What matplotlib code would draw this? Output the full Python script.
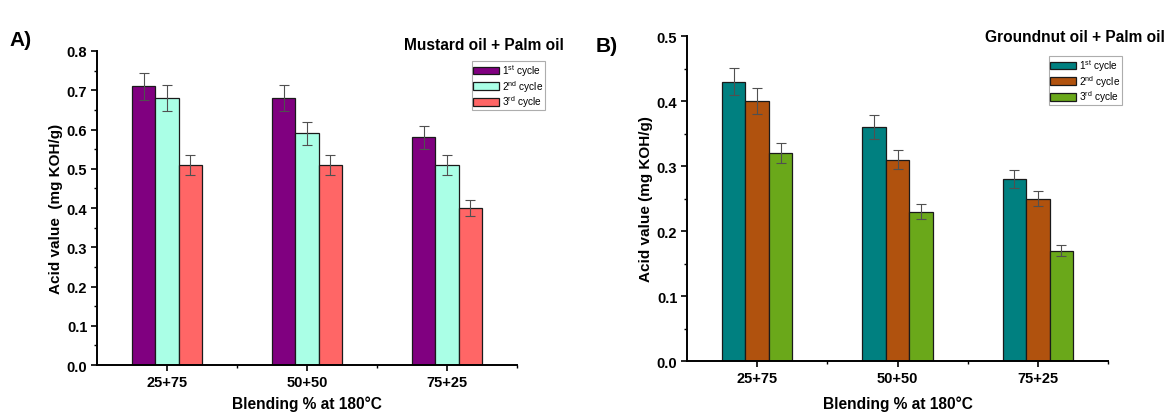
import numpy as np
import matplotlib
matplotlib.use("Agg")
import matplotlib.pyplot as plt
from matplotlib.ticker import MultipleLocator, FixedLocator, FormatStrFormatter

plt.rcParams['font.family'] = ['Liberation Sans', 'DejaVu Sans']
plt.rcParams['mathtext.fontset'] = 'custom'
plt.rcParams['mathtext.rm'] = 'Liberation Sans'
plt.rcParams['mathtext.it'] = 'Liberation Sans'

blends = ["25+75", "50+50", "75+25"]
cycles = ["1$^{st}$ cycle", "2$^{nd}$ cycle", "3$^{rd}$ cycle"]

# Mustard oil + Palm oil acid values (rows: cycles, cols: blends)
mustard_vals = [[0.71, 0.68, 0.58],
                [0.68, 0.59, 0.51],
                [0.51, 0.51, 0.40]]
mustard_err = [[0.035, 0.034, 0.029],
               [0.034, 0.030, 0.025],
               [0.025, 0.025, 0.020]]

# Groundnut oil + Palm oil acid values
groundnut_vals = [[0.43, 0.36, 0.28],
                  [0.40, 0.31, 0.25],
                  [0.32, 0.23, 0.17]]
groundnut_err = [[0.021, 0.018, 0.014],
                 [0.020, 0.015, 0.012],
                 [0.016, 0.011, 0.008]]

mustard_colors = ["#800080", "#aaffe6", "#ff6666"]
groundnut_colors = ["#008080", "#b0520e", "#6aa81a"]

W, H = 1172, 414
fig = plt.figure(figsize=(W / 100, H / 100), dpi=100)
axA = fig.add_axes([0.0828, 0.1159, 0.3583, 0.7585])
axB = fig.add_axes([0.5862, 0.1256, 0.3592, 0.7850])


def draw(ax, vals, errs, colors, ymax, title, ylabel, title_xy, legend_anchor,
         ylab_px, xlab_pad):
    x = np.arange(1, len(blends) + 1)
    w = 0.167
    handles = []
    for i, (v, e, c) in enumerate(zip(vals, errs, colors)):
        b = ax.bar(x + (i - 1) * w, v, width=w, color=c, edgecolor="#1a1a1a",
                   linewidth=0.9, zorder=2, label=cycles[i])
        ax.errorbar(x + (i - 1) * w, v, yerr=e, fmt="none", ecolor="#505050",
                    elinewidth=0.8, capsize=3.5, capthick=0.8, zorder=3)
        handles.append(b)
    ax.set_xlim(0.5, 3.5)
    ax.set_ylim(0, ymax)
    ax.set_xticks(x)
    ax.set_xticklabels(blends, fontsize=10.5, fontweight="bold")
    ax.xaxis.set_minor_locator(FixedLocator([1.5, 2.5, 3.5]))
    ax.yaxis.set_major_locator(MultipleLocator(0.1))
    ax.yaxis.set_minor_locator(MultipleLocator(0.05))
    ax.yaxis.set_major_formatter(FormatStrFormatter('%.1f'))
    for lab in ax.get_yticklabels():
        lab.set_fontweight("bold")
        lab.set_fontsize(10.5)
    ax.tick_params(axis="both", which="major", direction="out", length=4, width=1.2, pad=3)
    ax.tick_params(axis="both", which="minor", direction="out", length=2.5, width=1.0)
    for s in ("top", "right"):
        ax.spines[s].set_visible(False)
    for s in ("left", "bottom"):
        ax.spines[s].set_linewidth(1.4)
    ax.set_xlabel("Blending % at 180\u00b0C", fontsize=11.2, fontweight="bold",
                  labelpad=xlab_pad)
    ax.set_ylabel(ylabel, fontsize=11, fontweight="bold")
    # place the y label at a fixed horizontal pixel position
    pos = ax.get_position()
    ax.yaxis.set_label_coords((ylab_px / W - pos.x0) / pos.width, 0.5)
    fig.text(title_xy[0] / W, 1 - title_xy[1] / H, title, fontsize=11.2,
             fontweight="bold", ha="left", va="center")
    leg = ax.legend(handles=handles, loc="upper left",
                    bbox_to_anchor=(legend_anchor[0] / W, 1 - legend_anchor[1] / H),
                    bbox_transform=fig.transFigure, fontsize=7.3, frameon=True,
                    fancybox=False, edgecolor="#999999", handlelength=2.6,
                    handleheight=0.75, handletextpad=0.3, labelspacing=0.0,
                    borderpad=0.1, borderaxespad=0)
    leg.get_frame().set_linewidth(0.8)


draw(axA, mustard_vals, mustard_err, mustard_colors, 0.8,
     "Mustard oil + Palm oil", "Acid value  (mg KOH/g)",
     (404, 46), (472, 62), 63, 5)
draw(axB, groundnut_vals, groundnut_err, groundnut_colors, 0.5,
     "Groundnut oil + Palm oil", "Acid value (mg KOH/g)",
     (985, 37), (1049, 57), 653, 8)

fig.text(9 / W, 1 - 40 / H, "A)", fontsize=15, fontweight="bold", va="center")
fig.text(596 / W, 1 - 46 / H, "B)", fontsize=15, fontweight="bold", va="center")

fig.savefig("out.png", dpi=100)
